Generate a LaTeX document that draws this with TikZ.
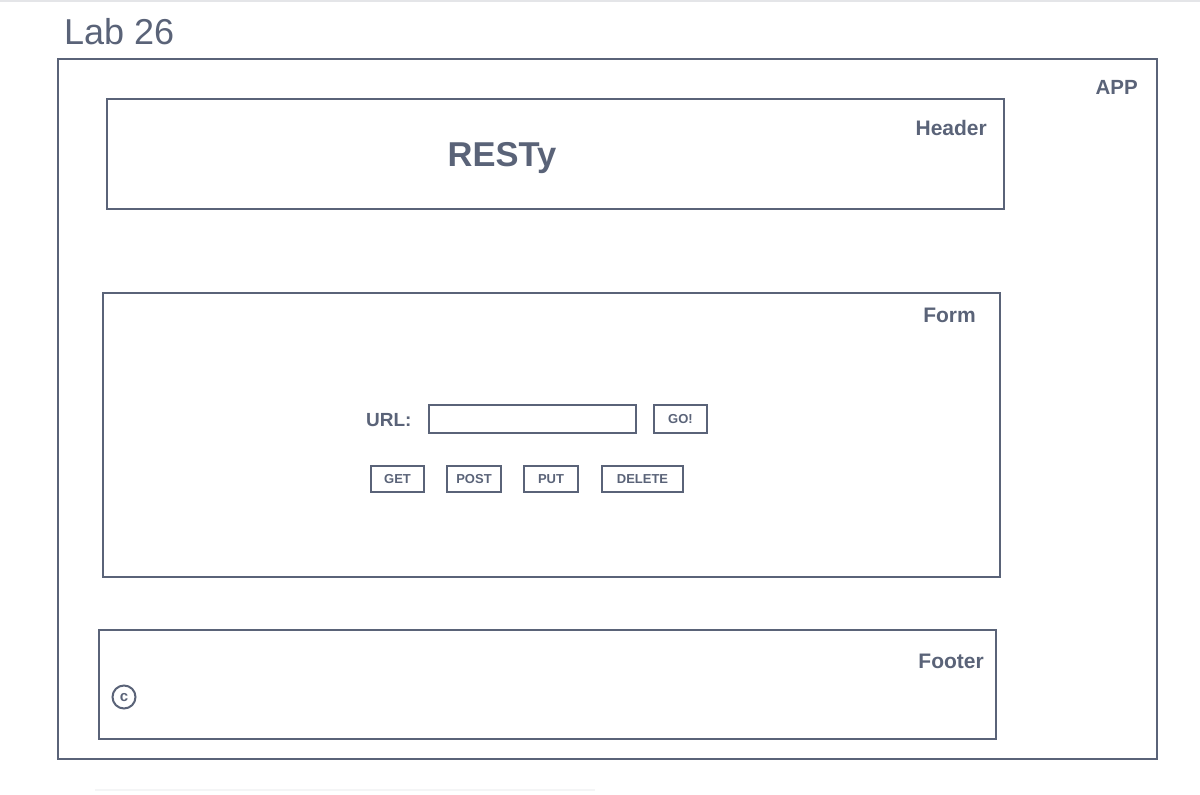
\documentclass[tikz,border=0pt]{standalone}
\usepackage{fontspec}
\setmainfont{Liberation Sans}
\definecolor{ink}{HTML}{5A6378}
\definecolor{faint}{HTML}{E4E5E8}
\begin{document}
\begin{tikzpicture}[x=1pt,y=-1pt,
  box/.style={draw=ink,line width=2.2pt},
  lbl/.style={text=ink,font=\bfseries\fontsize{21}{21}\selectfont,inner sep=0pt},
  btn/.style={draw=ink,line width=2.2pt,text=ink,font=\bfseries\fontsize{13}{13}\selectfont,inner sep=0pt}]
\useasboundingbox (0,0) rectangle (1200,795);
\draw[faint,line width=1.5pt] (0,1) -- (1200,1);
\draw[faint!40,line width=1.5pt] (95,790) -- (595,790);
\node[text=ink,font=\fontsize{36}{36}\selectfont,inner sep=0pt,anchor=base west] (title) at (64,44) {Lab 26};
% containers
\draw[box] (58,59) rectangle (1157,759);
\node[lbl,font=\bfseries\fontsize{20.5}{20.5}\selectfont,anchor=base east] (app) at (1138,94) {APP};
\draw[box] (107,99) rectangle (1004,209);
\node[lbl,anchor=base east] (hdr) at (987,135) {Header};
\node[text=ink,font=\bfseries\fontsize{34.5}{34.5}\selectfont,inner sep=0pt,anchor=base] (resty) at (502,166) {RESTy};
\draw[box] (103,293) rectangle (1000,577);
\node[lbl,anchor=base east] (form) at (976,322) {Form};
\draw[box] (99,630) rectangle (996,739);
\node[lbl,anchor=base east] (foot) at (984,668) {Footer};
% form contents
\node[lbl,font=\bfseries\fontsize{19}{19}\selectfont,anchor=base west] (url) at (366,426) {URL:};
\node[box,minimum width=207pt,minimum height=28pt,inner sep=0pt] (field) at (532.5,419) {};
\node[btn,minimum width=53pt,minimum height=28pt] (go) at (680.5,419) {GO!};
\node[btn,minimum width=53pt,minimum height=26pt] (get) at (397.5,479) {GET};
\node[btn,minimum width=54pt,minimum height=26pt] (post) at (474,479) {POST};
\node[btn,minimum width=54pt,minimum height=26pt] (put) at (551,479) {PUT};
\node[btn,minimum width=81pt,minimum height=26pt] (delete) at (642.5,479) {DELETE};
% copyright
\draw[ink,line width=2pt] (124,697) circle (11.5);
\node[text=ink,font=\bfseries\fontsize{15}{15}\selectfont,inner sep=0pt] (copy) at (124,697.5) {c};
\end{tikzpicture}
\end{document}
